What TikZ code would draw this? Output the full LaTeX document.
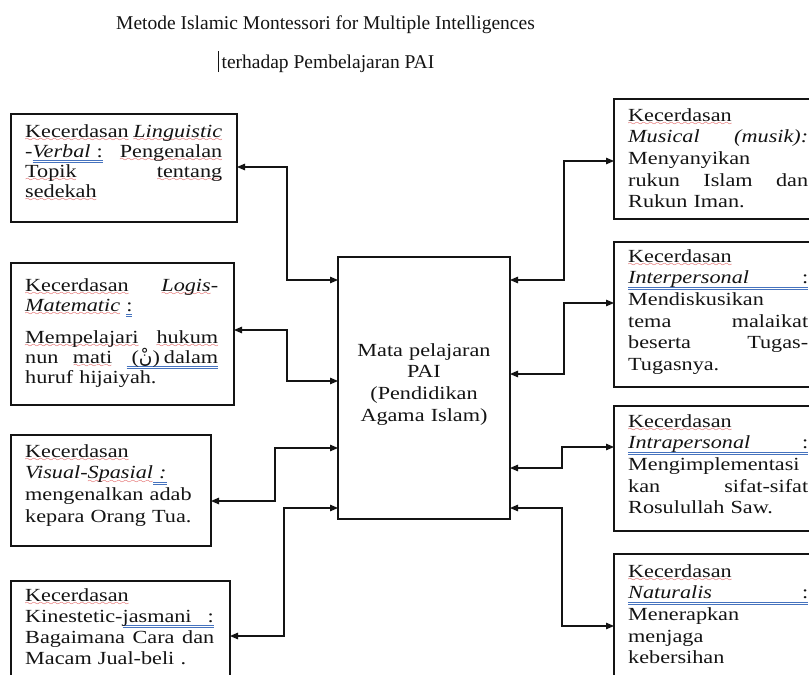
\documentclass[tikz,border=0pt]{standalone}
\usepackage{fontspec}
\setmainfont{Liberation Serif}
\newfontfamily\boxfont{Liberation Serif}[FakeStretch=1.2]
\newfontfamily\arabicfont[Script=Arabic]{DejaVu Sans}
\TeXXeTstate=1
\usetikzlibrary{arrows.meta}
\definecolor{wavered}{RGB}{215,45,45}
\definecolor{ulblue}{RGB}{70,115,190}
\definecolor{ink}{RGB}{20,20,20}
\font\wavefont=lasy6 at 8pt
\newsavebox\wbox
\newcommand\rw[1]{\sbox\wbox{#1}\leavevmode\rlap{\raisebox{-4.5pt}[0pt][0pt]{\color{wavered}\hbox to\wd\wbox{\xleaders\hbox{\wavefont\char58}\hfill}}}\usebox\wbox}
\newcommand\bu[1]{\sbox\wbox{#1}\leavevmode\rlap{\raisebox{0pt}[0pt][0pt]{\color{ulblue}\rule[-3.5pt]{\wd\wbox}{0.7pt}\llap{\rule[-6pt]{\wd\wbox}{0.7pt}}}}\usebox\wbox}
\tikzset{
  boxst/.style={draw=ink, line width=1.2pt, inner sep=0pt, outer sep=0pt},
  txt/.style={font=\boxfont\fontsize{18.5}{21.7}\selectfont, text=ink, align=left, inner sep=0pt, anchor=base west, text width=180pt},
  tight/.style={font=\boxfont\fontsize{18.5}{20}\selectfont},
  titlef/.style={font=\fontsize{19.5}{23}\selectfont, text=ink, inner sep=0pt},
  conn/.style={draw=ink, line width=1.1pt, >={Triangle[length=8pt,width=6.5pt]}, <->}
}
\begin{document}
\begin{tikzpicture}[x=1pt,y=-1pt]
\useasboundingbox (0,0) rectangle (809,675);
\clip (0,0) rectangle (809,675);
\fill[white] (0,0) rectangle (809,675);

% title
\node[titlef, anchor=base] (title1) at (325.5,29) {Metode Islamic Montessori for Multiple Intelligences};
\node[titlef, anchor=base west] (title2) at (218,68) {\rule[-4pt]{0.9pt}{21pt}\hspace{2.5pt}terhadap Pembelajaran PAI};

% boxes
\node[boxst, minimum width=172pt, minimum height=262pt] (c) at (424,388) {};
\node[boxst, minimum width=226pt, minimum height=108pt] (b1) at (124,168) {};
\node[boxst, minimum width=223pt, minimum height=142pt] (b2) at (122.5,334) {};
\node[boxst, minimum width=200pt, minimum height=111pt] (b3) at (111,490.5) {};
\node[boxst, minimum width=219pt, minimum height=119pt] (b4) at (120.5,640.5) {};
\node[boxst, minimum width=216pt, minimum height=120pt] (b5) at (722,159) {};
\node[boxst, minimum width=216pt, minimum height=145pt] (b6) at (722,314.5) {};
\node[boxst, minimum width=216pt, minimum height=125pt] (b7) at (722,468.5) {};
\node[boxst, minimum width=216pt, minimum height=146pt] (b8) at (722,627) {};

% texts
\node[txt, font=\boxfont\fontsize{18.5}{21.7}\selectfont, align=center, anchor=base, text width=170pt] (ct) at (424,356)
  {Mata pelajaran\\PAI\\(Pendidikan\\Agama Islam)};

\node[txt, tight, text width=197pt] (t1) at (25,137) {%
\rw{Kecerdasan}\hfill\textit{\rw{Linguistic}}\\
-\bu{\textit{Verbal}\ :}\hfill\rw{Pengenalan}\\
\rw{Topik}\hfill\rw{tentang}\\
\rw{sedekah}};

\node[txt, tight, text width=193pt] (t2) at (25,291) {%
\rw{Kecerdasan}\hfill\textit{\rw{Logis}-}\\
\textit{\rw{Matematic}} \bu{:}\\[12pt]
\rw{Mempelajari}\hfill\rw{hukum}\\
nun\hfill\rw{mati}\hfill\bu{\hspace{5pt}({\arabicfont\beginR نْ\endR})\hspace{4pt}dalam}\\
huruf hijaiyah.};

\node[txt, text width=180pt] (t3) at (25,457) {%
\rw{Kecerdasan}\\
\textit{Visual-\rw{Spasial}}\bu{\textit{\ :}}\\
mengenalkan adab\\
kepara Orang Tua.};

\node[txt, font=\boxfont\fontsize{18.5}{21}\selectfont, text width=189pt] (t4) at (25,601) {%
\rw{Kecerdasan}\\
Kinestetic-\bu{jasmani\hspace{16pt}:}\\
Bagaimana\hfill Cara\hfill dan\\
Macam Jual-beli .};

\node[txt] (t5) at (628,121) {%
\rw{Kecerdasan}\\
\textit{Musical}\hfill\textit{(musik):}\\
Menyanyikan\\
rukun\hfill Islam\hfill dan\\
Rukun Iman.};

\node[txt] (t6) at (628,262) {%
\rw{Kecerdasan}\\
\bu{\hbox to 180pt{\textit{Interpersonal}\hfill:}}\\
Mendiskusikan\\
tema\hfill malaikat\\
beserta\hfill Tugas-\\
Tugasnya.};

\node[txt] (t7) at (628,427) {%
\rw{Kecerdasan}\\
\bu{\hbox to 180pt{\textit{Intrapersonal}\hfill:}}\\
Mengimplementasi\\
kan\hfill sifat-sifat\\
Rosulullah Saw.};

\node[txt] (t8) at (628,577) {%
\rw{Kecerdasan}\\
\bu{\hbox to 180pt{\textit{Naturalis}\hfill:}}\\
Menerapkan\\
menjaga\\
kebersihan};

% connectors left
\draw[conn] (b1.east |- 0,167) -| (287,280) -- (c.west |- 0,280);
\draw[conn] (b2.east |- 0,330) -| (287,381) -- (c.west |- 0,381);
\draw[conn] (b3.east |- 0,501) -| (275,448) -- (c.west |- 0,448);
\draw[conn] (b4.east |- 0,636) -| (284,508) -- (c.west |- 0,508);
% connectors right
\draw[conn] (b5.west |- 0,161) -| (564,280) -- (c.east |- 0,280);
\draw[conn] (b6.west |- 0,303) -| (564,374) -- (c.east |- 0,374);
\draw[conn] (b7.west |- 0,447) -| (562,468) -- (c.east |- 0,468);
\draw[conn] (b8.west |- 0,626) -| (562,508) -- (c.east |- 0,508);
\end{tikzpicture}
\end{document}
